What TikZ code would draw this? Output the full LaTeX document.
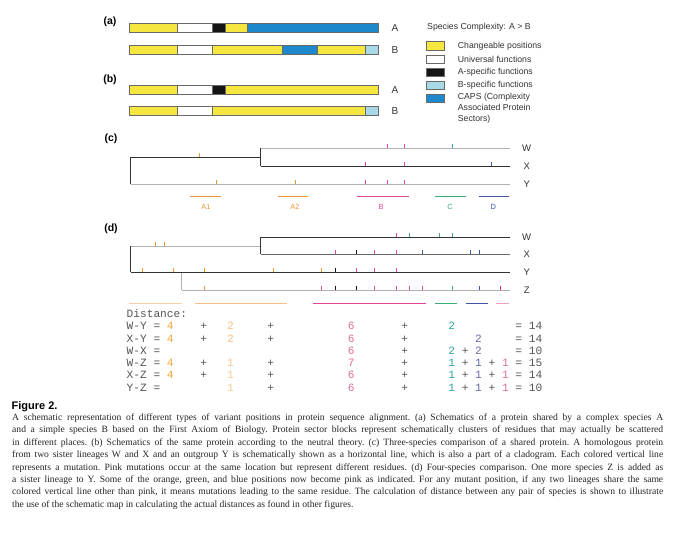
\documentclass[tikz,border=0pt]{standalone}
\usepackage{fontspec}
\setmainfont{Liberation Serif}
\setsansfont{Liberation Sans}
\setmonofont{Liberation Mono}
\definecolor{cyel}{HTML}{F5E640}
\definecolor{ccaps}{HTML}{1E88CC}
\definecolor{clb}{HTML}{A9D8E6}
\definecolor{cblk}{HTML}{151515}
\definecolor{corg}{HTML}{F0953A}
\definecolor{cpink}{HTML}{E0479A}
\definecolor{cgrn}{HTML}{3AAE78}
\definecolor{cblu}{HTML}{4055A8}
\definecolor{cred}{HTML}{E03060}
\definecolor{lgray}{HTML}{B0B0B0}
\definecolor{mgray}{HTML}{6A6A6A}
\definecolor{dgray}{HTML}{333333}
\definecolor{tgray}{HTML}{555555}
\definecolor{lorg}{HTML}{FBCFA5}
\definecolor{morg}{HTML}{F8BF86}
\definecolor{lpink}{HTML}{F2A0B4}
\definecolor{tOa}{HTML}{F2A33A}
\definecolor{tOb}{HTML}{F5C07A}
\definecolor{tOc}{HTML}{F5CC90}
\definecolor{tPk}{HTML}{E0709A}
\definecolor{tGr}{HTML}{2AA3A0}
\definecolor{tBl}{HTML}{6A6AA8}
\newcommand\dsk[1]{\kern\dimexpr0.6em*#1\relax}
\newcommand\cOa[1]{\textcolor{tOa}{#1}}
\newcommand\cOb[1]{\textcolor{tOb}{#1}}
\newcommand\cOc[1]{\textcolor{tOc}{#1}}
\newcommand\cPk[1]{\textcolor{tPk}{#1}}
\newcommand\cGr[1]{\textcolor{tGr}{#1}}
\newcommand\cBl[1]{\textcolor{tBl}{#1}}
\begin{document}
\begin{tikzpicture}[x=1pt,y=-1pt,
  plab/.style={font=\sffamily\bfseries\fontsize{10.5}{12}\selectfont, inner sep=0},
  splab/.style={font=\sffamily\fontsize{10}{12}\selectfont, text=dgray, inner sep=0},
  leg/.style={font=\sffamily\fontsize{8.7}{11}\selectfont, text=dgray, anchor=west, inner sep=0},
  sw/.style={draw=mgray, line width=0.5pt},
  seg/.style={draw=mgray, line width=0.5pt},
  tl/.style={font=\sffamily\fontsize{9.5}{11}\selectfont, text=dgray, inner sep=0},
  gl/.style={font=\sffamily\fontsize{7.5}{9}\selectfont, inner sep=0},
  grayline/.style={draw=lgray, line width=1pt},
  darkline/.style={draw=dgray, line width=1pt},
  midline/.style={draw=mgray, line width=1pt},
  tick/.style={line width=1pt},
  gbar/.style={line width=1.2pt},
  dtext/.style={font=\ttfamily\fontsize{11.17}{12}\selectfont, text=tgray, anchor=base west, inner sep=0}
]
\useasboundingbox (0,0) rectangle (675,537);
\fill[white] (0,0) rectangle (675,537);

% ---------- panel labels
\node[plab] (la) at (110,22) {(a)};
\node[plab] (lb) at (110,80) {(b)};
\node[plab] (lc) at (111,139) {(c)};
\node[plab] (ld) at (111,229) {(d)};

% ---------- (a) bar A
\filldraw[seg, fill=cyel]  (129,23.5) rectangle (177.7,32.5);
\filldraw[seg, fill=white] (177.7,23.5) rectangle (212,32.5);
\filldraw[seg, fill=cblk]  (212,23.5) rectangle (225.3,32.5);
\filldraw[seg, fill=cyel]  (225.3,23.5) rectangle (247.3,32.5);
\filldraw[seg, fill=ccaps] (247.3,23.5) rectangle (378,32.5);
% (a) bar B
\filldraw[seg, fill=cyel]  (129,45) rectangle (177.7,54);
\filldraw[seg, fill=white] (177.7,45) rectangle (212.3,54);
\filldraw[seg, fill=cyel]  (212.3,45) rectangle (282.3,54);
\filldraw[seg, fill=ccaps] (282.3,45) rectangle (317.7,54);
\filldraw[seg, fill=cyel]  (317.7,45) rectangle (365.3,54);
\filldraw[seg, fill=clb]   (365.3,45) rectangle (378,54);
% (b) bar A
\filldraw[seg, fill=cyel]  (129,85.3) rectangle (177.7,94.3);
\filldraw[seg, fill=white] (177.7,85.3) rectangle (212.3,94.3);
\filldraw[seg, fill=cblk]  (212.3,85.3) rectangle (225.7,94.3);
\filldraw[seg, fill=cyel]  (225.7,85.3) rectangle (378,94.3);
% (b) bar B
\filldraw[seg, fill=cyel]  (129,106.7) rectangle (177.7,115.7);
\filldraw[seg, fill=white] (177.7,106.7) rectangle (212.3,115.7);
\filldraw[seg, fill=cyel]  (212.3,106.7) rectangle (365.3,115.7);
\filldraw[seg, fill=clb]   (365.3,106.7) rectangle (378,115.7);

\node[splab] (aA) at (395,28) {A};
\node[splab] (aB) at (395,50) {B};
\node[splab] (bA) at (395,90) {A};
\node[splab] (bB) at (395,111) {B};

% ---------- legend
\node[leg] (legt) at (427,27.3) {Species Complexity: A > B};
\filldraw[sw, fill=cyel]  (426,41.7) rectangle (444,50);
\filldraw[sw, fill=white] (426,55) rectangle (444,63.3);
\filldraw[sw, fill=cblk]  (426,68.3) rectangle (444,76);
\filldraw[sw, fill=clb]   (426,81) rectangle (444,89.3);
\filldraw[sw, fill=ccaps] (426,94) rectangle (444,102.3);
\node[leg] (l1) at (457.7,45.8) {Changeable positions};
\node[leg] (l2) at (457.7,59) {Universal functions};
\node[leg] (l3) at (457.7,72) {A-specific functions};
\node[leg] (l4) at (457.7,85) {B-specific functions};
\node[leg, anchor=north west, align=left] (l5) at (457.7,93) {CAPS (Complexity\\Associated Protein\\Sectors)};

% ---------- (c) tree
\coordinate (cR1) at (130.5,157.5);
\coordinate (cR2) at (130.5,184.5);
\coordinate (cJ)  at (260.5,157.5);
\coordinate (cW0) at (260.5,148.5);
\coordinate (cW1) at (509.5,148.5);
\coordinate (cX0) at (260.5,166.5);
\coordinate (cX1) at (509.5,166.5);
\coordinate (cY1) at (509.5,184.5);
\draw[grayline] (cW0) -- (cW1);
\draw[grayline] (cR2) -- (cY1);
\draw[darkline] (cX0) -- (cX1);
\draw[darkline] (cR1) -- (cJ);
\draw[darkline] (cR1) -- (cR2);
\draw[darkline] (cW0) -- (cX0);
\node[tl] (cWl) at (526.7,148.7) {W};
\node[tl] (cXl) at (526.7,166.7) {X};
\node[tl] (cYl) at (526.7,184) {Y};
% ticks (c)
\foreach \x in {199.5} \draw[tick, corg] (\x,157.5) -- (\x,153.5);
\foreach \x in {216.5,295.5} \draw[tick, corg] (\x,184.5) -- (\x,180.5);
\foreach \x in {365.5,387.5,404.5} \draw[tick, cpink] (\x,184.5) -- (\x,180.5);
\foreach \x in {387.5,404.5} \draw[tick, cpink] (\x,148.5) -- (\x,144.5);
\foreach \x in {452.5} \draw[tick, cgrn] (\x,148.5) -- (\x,144.5);
\foreach \x in {365.5,404.5} \draw[tick, cpink] (\x,166.5) -- (\x,162.5);
\foreach \x in {491.5} \draw[tick, cblu] (\x,166.5) -- (\x,162.5);
% groups (c)
\draw[gbar, corg]  (190,196.5) -- (220.7,196.5);
\draw[gbar, corg]  (278.3,196.5) -- (308.3,196.5);
\draw[gbar, cpink] (356.7,196.5) -- (409.3,196.5);
\draw[gbar, cgrn]  (435,196.5) -- (465.7,196.5);
\draw[gbar, cblu]  (479,196.5) -- (509.3,196.5);
\node[gl, text=corg]  (gA1) at (206,207) {A1};
\node[gl, text=corg]  (gA2) at (295,207) {A2};
\node[gl, text=cpink] (gB)  at (381,207) {B};
\node[gl, text=cgrn]  (gC)  at (450,207) {C};
\node[gl, text=cblu]  (gD)  at (493.3,207) {D};

% ---------- (d) tree
\coordinate (dR1) at (130.5,246.5);
\coordinate (dR2) at (130.5,272.5);
\coordinate (dJ)  at (260.5,246.5);
\coordinate (dW0) at (260.5,237.5);
\coordinate (dW1) at (509.5,237.5);
\coordinate (dX0) at (260.5,254.5);
\coordinate (dX1) at (509.5,254.5);
\coordinate (dY1) at (509.5,272.5);
\coordinate (dZt) at (181.5,272.5);
\coordinate (dZ0) at (181.5,290.5);
\coordinate (dZ1) at (509.5,290.5);
\draw[grayline] (dR1) -- (dJ);
\draw[grayline] (dZt) -- (dZ0);
\draw[grayline] (dZ0) -- (dZ1);
\draw[midline] (dX0) -- (dX1);
\draw[darkline] (dW0) -- (dW1);
\draw[darkline] (dR2) -- (dY1);
\draw[darkline] (dR1) -- (dR2);
\draw[darkline] (dW0) -- (dX0);
\node[tl] (dWl) at (526.7,237.3) {W};
\node[tl] (dXl) at (526.7,254.7) {X};
\node[tl] (dYl) at (526.7,272.3) {Y};
\node[tl] (dZl) at (526.7,290.3) {Z};
% ticks (d)
\foreach \x in {155.5,164.5} \draw[tick, corg] (\x,246.5) -- (\x,242.5);
\foreach \x in {396.5} \draw[tick, cpink] (\x,237.5) -- (\x,233.5);
\foreach \x in {409.5,439.5,452.5} \draw[tick, cgrn] (\x,237.5) -- (\x,233.5);
\foreach \x in {335.5,374.5,396.5} \draw[tick, cpink] (\x,254.5) -- (\x,250.5);
\foreach \x in {356.5} \draw[tick, cblk] (\x,254.5) -- (\x,250.5);
\foreach \x in {422.5,470.5,479.5} \draw[tick, cblu] (\x,254.5) -- (\x,250.5);
\foreach \x in {142.5,173.5,204.5,273.5,321.5} \draw[tick, corg] (\x,272.5) -- (\x,268.5);
\foreach \x in {335.5} \draw[tick, cblk] (\x,272.5) -- (\x,268.5);
\foreach \x in {356.5,374.5,396.5} \draw[tick, cpink] (\x,272.5) -- (\x,268.5);
\foreach \x in {204.5} \draw[tick, corg] (\x,290.5) -- (\x,286.5);
\foreach \x in {321.5,374.5,396.5,409.5,422.5} \draw[tick, cpink] (\x,290.5) -- (\x,286.5);
\foreach \x in {335.5,356.5} \draw[tick, cblk] (\x,290.5) -- (\x,286.5);
\foreach \x in {452.5} \draw[tick, cgrn] (\x,290.5) -- (\x,286.5);
\foreach \x in {479.5} \draw[tick, cblu] (\x,290.5) -- (\x,286.5);
\foreach \x in {500.5} \draw[tick, cred] (\x,290.5) -- (\x,286.5);
% groups (d)
\draw[gbar, lorg]  (129.3,303.5) -- (181.7,303.5);
\draw[gbar, morg]  (195,303.5) -- (287.3,303.5);
\draw[gbar, cpink] (312.7,303.5) -- (426,303.5);
\draw[gbar, cgrn]  (435,303.5) -- (456.7,303.5);
\draw[gbar, cblu]  (465.7,303.5) -- (487.7,303.5);
\draw[gbar, lpink] (496,303.5) -- (509.3,303.5);

% ---------- distance table
\node[dtext] (dist) at (126.5,317.5) {Distance:};
\node[dtext] (rWY) at (126.5,329.8) {W-Y\dsk{1}=\dsk{1}\cOa{4}\dsk{4}+\dsk{3}\cOb{2}\dsk{5}+\dsk{11}\cPk{6}\dsk{7}+\dsk{6}\cGr{2}\dsk{9}=\dsk{1}14};
\node[dtext] (rXY) at (126.5,342.1) {X-Y\dsk{1}=\dsk{1}\cOa{4}\dsk{4}+\dsk{3}\cOb{2}\dsk{5}+\dsk{11}\cPk{6}\dsk{7}+\dsk{10}\cBl{2}\dsk{5}=\dsk{1}14};
\node[dtext] (rWX) at (126.5,354.4) {W-X\dsk{1}=\dsk{28}\cPk{6}\dsk{7}+\dsk{6}\cGr{2}\dsk{1}+\dsk{1}\cBl{2}\dsk{5}=\dsk{1}10};
\node[dtext] (rWZ) at (126.5,366.7) {W-Z\dsk{1}=\dsk{1}\cOa{4}\dsk{4}+\dsk{3}\cOc{1}\dsk{5}+\dsk{11}\cPk{7}\dsk{7}+\dsk{6}\cGr{1}\dsk{1}+\dsk{1}\cBl{1}\dsk{1}+\dsk{1}\cPk{1}\dsk{1}=\dsk{1}15};
\node[dtext] (rXZ) at (126.5,379) {X-Z\dsk{1}=\dsk{1}\cOa{4}\dsk{4}+\dsk{3}\cOc{1}\dsk{5}+\dsk{11}\cPk{6}\dsk{7}+\dsk{6}\cGr{1}\dsk{1}+\dsk{1}\cBl{1}\dsk{1}+\dsk{1}\cPk{1}\dsk{1}=\dsk{1}14};
\node[dtext] (rYZ) at (126.5,391.3) {Y-Z\dsk{1}=\dsk{10}\cOc{1}\dsk{5}+\dsk{11}\cPk{6}\dsk{7}+\dsk{6}\cGr{1}\dsk{1}+\dsk{1}\cBl{1}\dsk{1}+\dsk{1}\cPk{1}\dsk{1}=\dsk{1}10};

% ---------- caption
\node[anchor=west, inner sep=0, font=\sffamily\bfseries\fontsize{11}{13}\selectfont] (fig) at (11.5,406.5) {Figure 2.};
\node[anchor=north west, inner sep=0, text width=651pt, align=justify, text=black!85,
      font=\frenchspacing\fontsize{9.6}{12.4}\selectfont] (cap) at (12,413.5)
{A schematic representation of different types of variant positions in protein sequence alignment. (a) Schematics of a protein shared by a complex species A\linebreak
and a simple species B based on the First Axiom of Biology. Protein sector blocks represent schematically clusters of residues that may actually be scattered\linebreak
in different places. (b) Schematics of the same protein according to the neutral theory. (c) Three-species comparison of a shared protein. A homologous protein\linebreak
from two sister lineages W and X and an outgroup Y is schematically shown as a horizontal line, which is also a part of a cladogram. Each colored vertical line\linebreak
represents a mutation. Pink mutations occur at the same location but represent different residues. (d) Four-species comparison. One more species Z is added as\linebreak
a sister lineage to Y. Some of the orange, green, and blue positions now become pink as indicated. For any mutant position, if any two lineages share the same\linebreak
colored vertical line other than pink, it means mutations leading to the same residue. The calculation of distance between any pair of species is shown to illustrate\linebreak
the use of the schematic map in calculating the actual distances as found in other figures.};
\end{tikzpicture}
\end{document}
